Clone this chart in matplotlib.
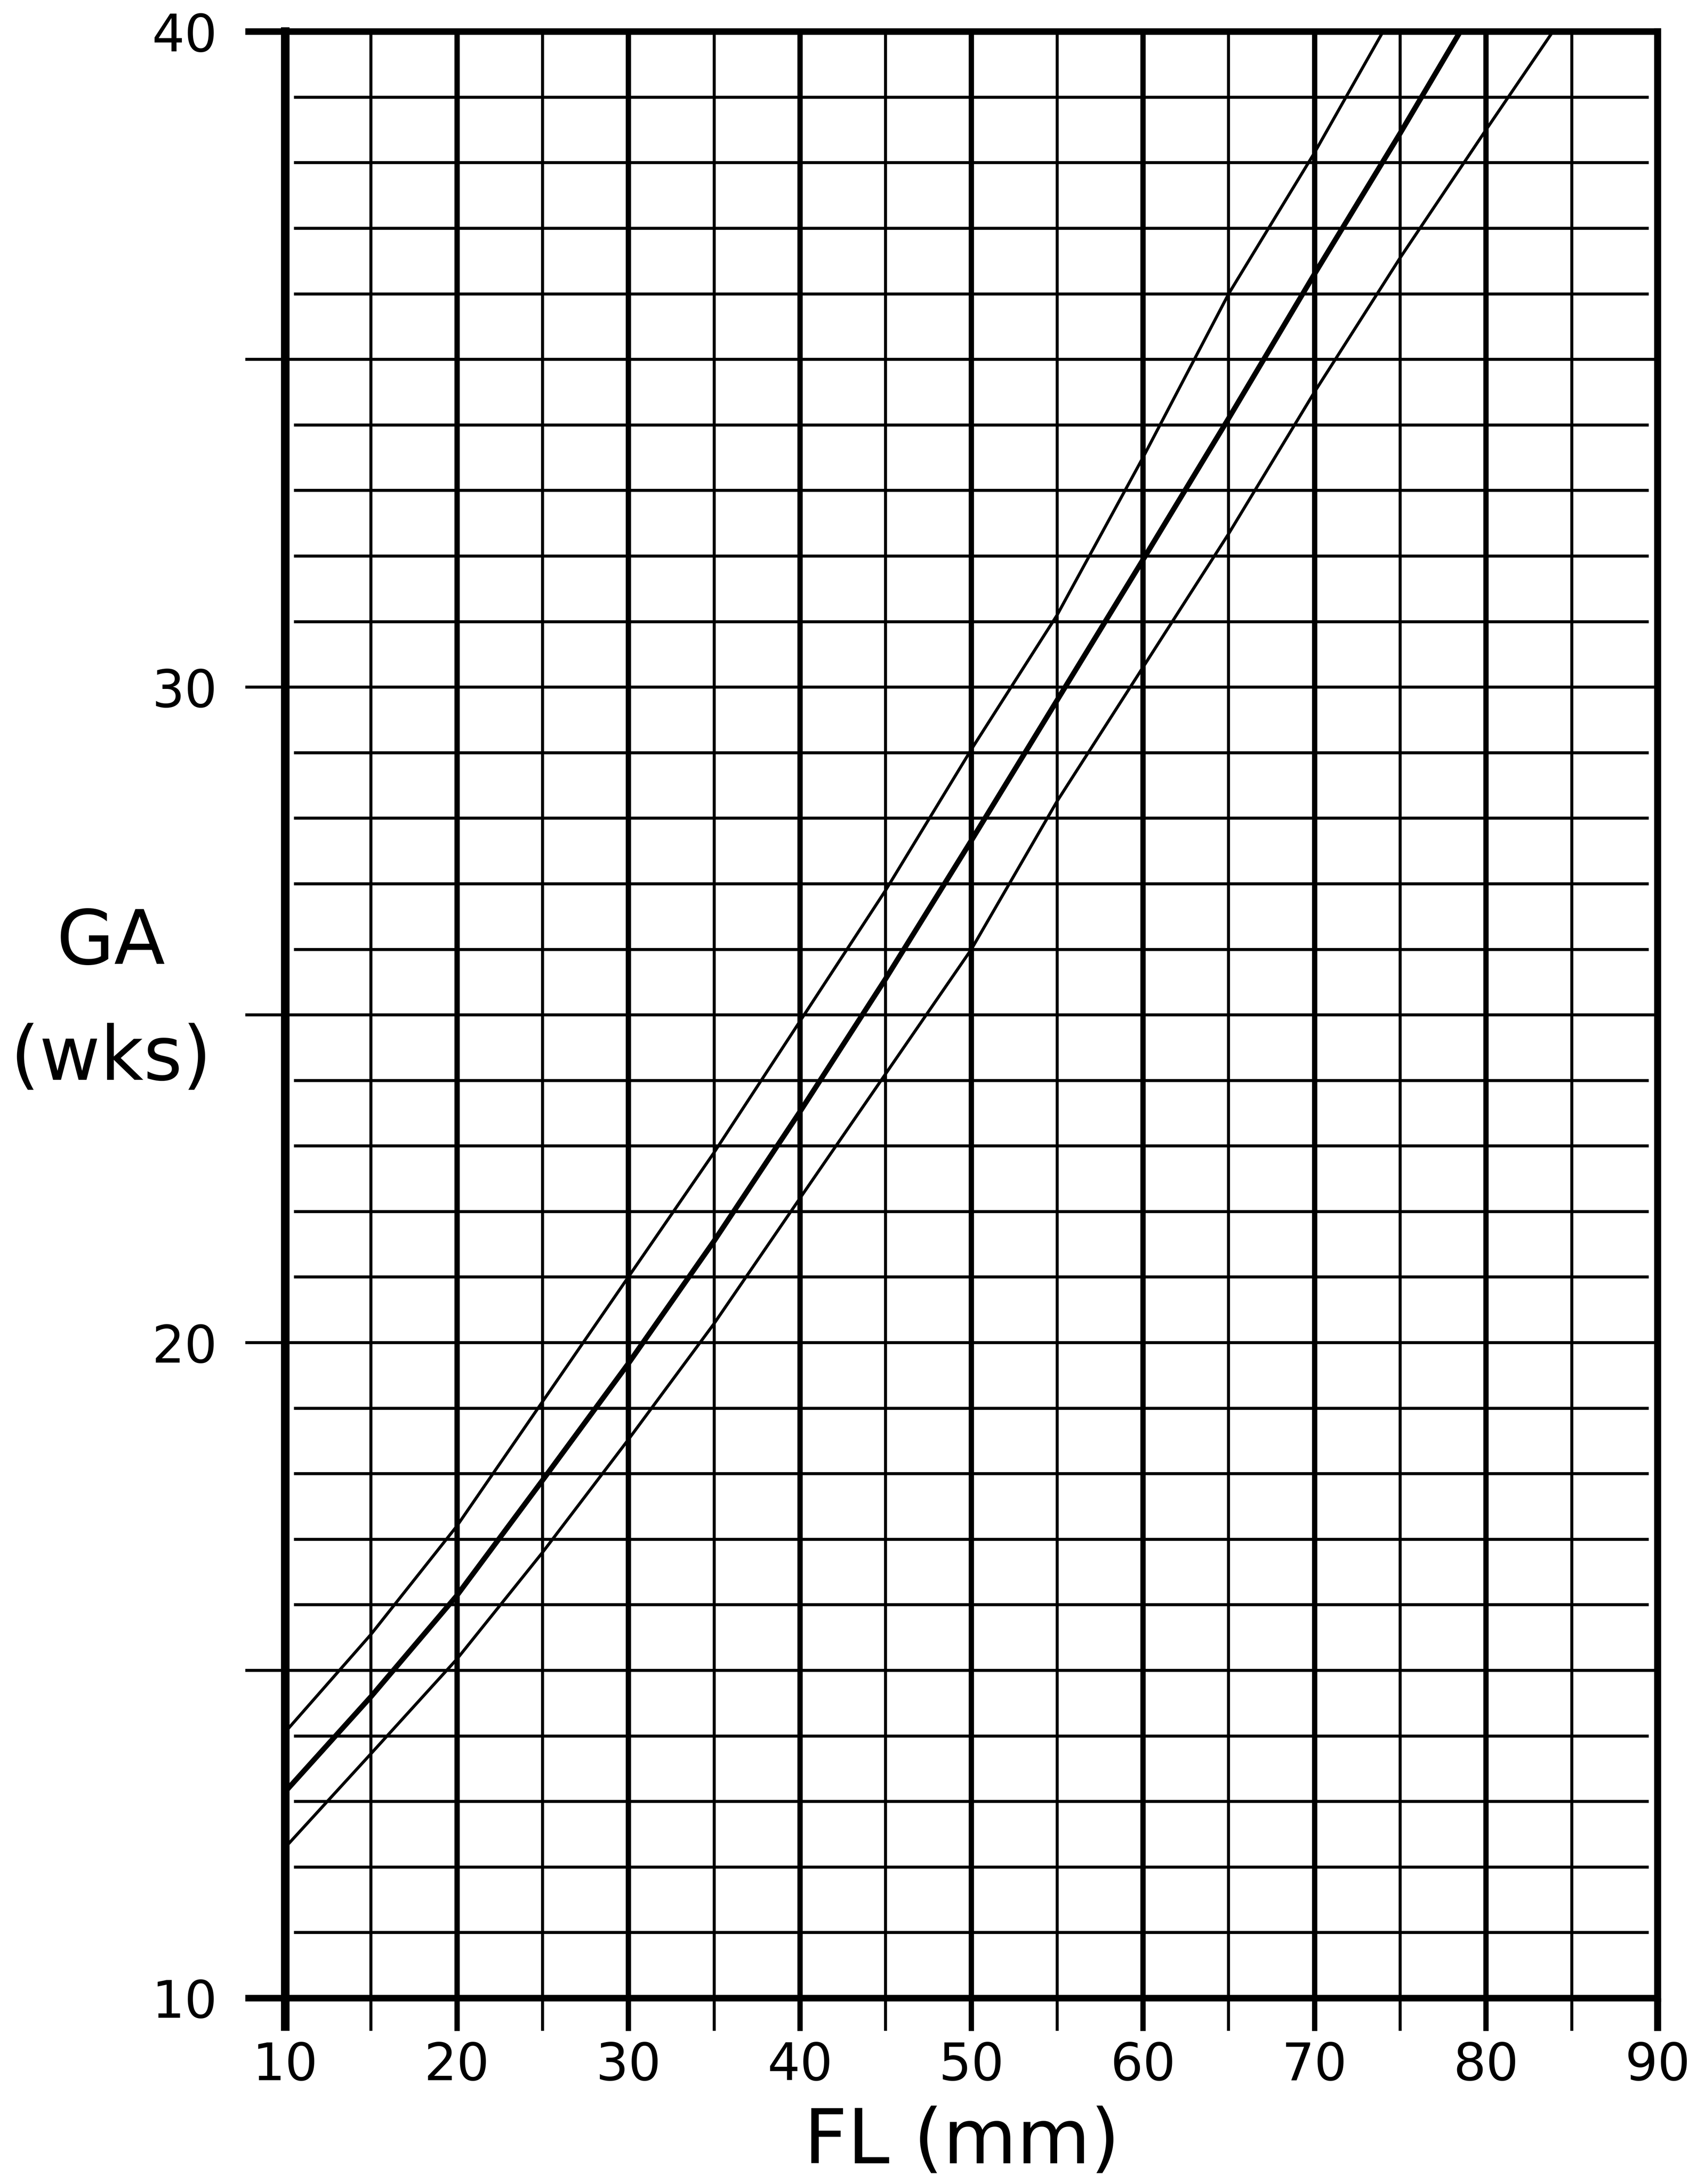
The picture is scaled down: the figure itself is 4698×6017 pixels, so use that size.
import numpy as np
import matplotlib
matplotlib.use('Agg')
import matplotlib.pyplot as plt

# ---- values (FL in mm, GA in weeks)
upper_fl = [10, 15, 20, 25, 30, 35, 40, 45, 50, 55, 60, 65, 70, 74.0]
upper_ga = [14.06, 15.55, 17.2, 19.1, 21.0, 22.9, 24.9, 26.9, 29.05, 31.1, 33.5, 36.0, 38.15, 40.0]

mid_fl = [10, 15, 20, 25, 30, 35, 40, 45, 50, 55, 60, 65, 70, 75, 78.5]
mid_ga = [13.15, 14.6, 16.14, 17.9, 19.68, 21.55, 23.52, 25.55, 27.66, 29.8, 31.94, 34.1, 36.3, 38.45, 40.0]

low_fl = [10, 15, 20, 25, 30, 35, 40, 45, 50, 55, 60, 65, 70, 75, 80, 83.9]
low_ga = [12.3, 13.73, 15.17, 16.8, 18.52, 20.29, 22.2, 24.1, 26.0, 28.26, 30.3, 32.34, 34.5, 36.55, 38.5, 40.0]

x_major = [10, 20, 30, 40, 50, 60, 70, 80, 90]
x_minor = [15, 25, 35, 45, 55, 65, 75, 85]
y_major = [10, 20, 30, 40]
y_minor = [15, 25, 35]
y_weeks = list(range(11, 40))

plt.rcParams['font.family'] = ['DejaVu Sans']

fig = plt.figure(figsize=(46.98, 60.17), dpi=100)
ax = fig.add_axes([0.1673, 0.0851, 0.8048, 0.9004])
ax.set_xlim(10, 90)
ax.set_ylim(10, 40)

# ---- grid
thin = 6.0
thick = 10.5
for x in x_minor:
    ax.vlines(x, 10, 40, color='black', lw=thin, zorder=1)
for x in x_major[1:-1]:
    ax.vlines(x, 10, 40, color='black', lw=thick, zorder=1)
for y in y_weeks:
    if y % 5 == 0:
        ax.hlines(y, 10, 90, color='black', lw=thin, zorder=1)
    else:
        ax.hlines(y, 10.5, 89.5, color='black', lw=thin, zorder=1)

# ---- curves
ax.plot(upper_fl, upper_ga, color='black', lw=6.0, zorder=3)
ax.plot(mid_fl, mid_ga, color='black', lw=10.5, zorder=3)
ax.plot(low_fl, low_ga, color='black', lw=6.0, zorder=3)

# ---- frame
ax.spines['left'].set_linewidth(17)
ax.spines['right'].set_linewidth(14)
ax.spines['top'].set_linewidth(13)
ax.spines['bottom'].set_linewidth(13)

ax.set_xticks(x_major)
ax.set_xticks(x_minor, minor=True)
ax.set_yticks(y_major)
ax.set_yticks(y_minor, minor=True)
ax.set_xticklabels([str(v) for v in x_major])
ax.set_yticklabels([str(v) for v in y_major])

ax.tick_params(axis='x', which='major', direction='out', length=65, width=thick,
               pad=19, labelsize=102)
ax.tick_params(axis='x', which='minor', direction='out', length=65, width=thin)
ax.tick_params(axis='y', which='major', direction='out', length=79, width=thin,
               pad=56, labelsize=102)
ax.tick_params(axis='y', which='minor', direction='out', length=79, width=thin)

# the border ticks at 10 and 40 are as heavy as the frame
yt = ax.yaxis.get_major_ticks()
yt[0].tick1line.set_markeredgewidth(13)
yt[-1].tick1line.set_markeredgewidth(13)
ax.xaxis.get_major_ticks()[0].tick1line.set_markeredgewidth(17)
ax.xaxis.get_major_ticks()[-1].tick1line.set_markeredgewidth(14)

ax.set_xlabel('FL (mm)', fontsize=150)
ax.xaxis.label.set_verticalalignment('baseline')
ax.xaxis.set_label_coords(0.493, -0.084)

ax.set_ylabel('GA\n(wks)', fontsize=148, rotation=0, ha='center', va='center',
              linespacing=1.75, multialignment='center')
ax.yaxis.set_label_coords(-0.127, 0.507)

fig.savefig('out.png', dpi=100, facecolor='white')
